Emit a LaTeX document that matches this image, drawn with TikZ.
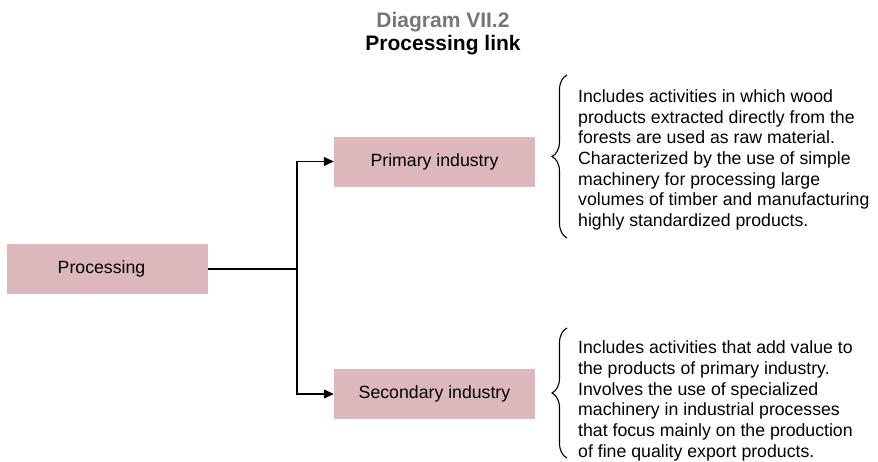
\documentclass[tikz,border=0pt]{standalone}
\usepackage{fontspec}
\setmainfont{Liberation Sans}
\usetikzlibrary{arrows.meta,decorations.pathreplacing}
\definecolor{boxpink}{HTML}{DCB8BC}
\definecolor{titlegray}{HTML}{767676}
\begin{document}
\begin{tikzpicture}[x=1pt,y=-1pt,
  pinkbox/.style={fill=boxpink,draw=none,minimum width=201pt,minimum height=50pt,inner sep=0pt,
    font=\fontsize{17.7}{21}\selectfont},
  conn/.style={line width=1.2pt,draw=black},
  arr/.style={conn,-{Triangle[length=10pt,width=9pt]}},
  desc/.style={align=left,anchor=west,inner sep=0pt,font=\fontsize{17.7}{20.7}\selectfont},
  bracestyle/.style={line width=1.1pt,decorate,decoration={brace,amplitude=15pt}}]
\useasboundingbox (0,0) rectangle (878,461);
\node[font=\bfseries\fontsize{21}{24}\selectfont,text=titlegray] (t1) at (443,22) {Diagram VII.2};
\node[font=\bfseries\fontsize{21}{24}\selectfont] (t2) at (443,45) {Processing link};
\node[pinkbox] (proc) at (107.5,269) {Processing\hspace*{12pt}};
\node[pinkbox] (prim) at (434.5,161.5) {Primary industry};
\node[pinkbox] (sec) at (434.5,394) {Secondary industry};
\coordinate (j) at (297,269);
\draw[conn] (proc.east) -- (j);
\draw[arr] (j) |- (prim.west);
\draw[arr] (j) |- (sec.west);
\coordinate (b1a) at (567,238);
\coordinate (b1b) at (567,75);
\coordinate (b2a) at (567,458);
\coordinate (b2b) at (567,328);
\draw[bracestyle] (b1a) -- (b1b);
\draw[bracestyle] (b2a) -- (b2b);
\node[desc] (d1) at (578,160) {Includes activities in which wood\\products extracted directly from the\\forests are used as raw material.\\Characterized by the use of simple\\machinery for processing large\\volumes of timber and manufacturing\\highly standardized products.};
\node[desc] (d2) at (578,401) {Includes activities that add value to\\the products of primary industry.\\Involves the use of specialized\\machinery in industrial processes\\that focus mainly on the production\\of fine quality export products.};
\end{tikzpicture}
\end{document}
